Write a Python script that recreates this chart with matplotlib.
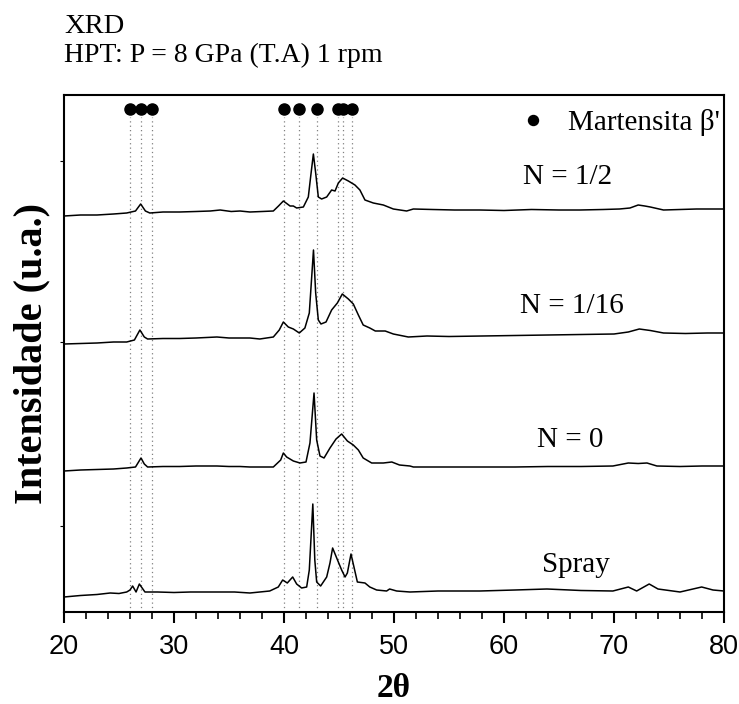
import matplotlib
matplotlib.use("Agg")
import matplotlib.pyplot as plt
from matplotlib.ticker import MultipleLocator

# 2theta positions of the martensite beta' reflections
peaks = [26.0, 27.0, 28.0, 40.0, 41.4, 43.0, 44.9, 45.4, 46.2]

# traces, already offset (a.u.)
tt_half = [20.0, 21.5, 23.0, 24.5, 25.7, 26.5, 26.97, 27.4, 27.8, 29.0, 30.5, 32.0, 33.3, 34.2,
           35.2, 36.0, 36.9, 38.0, 39.03, 39.5, 39.94, 40.55, 40.85, 41.15, 41.76, 42.21, 42.42,
           42.67, 42.88, 43.12, 43.42, 43.88, 44.33, 44.64, 44.94, 45.33, 45.85, 46.45, 46.9,
           47.36, 48.12, 49.03, 49.94, 51.15, 51.76, 53.5, 55.5, 57.8, 60.0, 62.5, 65.0, 66.9,
           69.0, 70.5, 71.45, 72.2, 72.8, 73.3, 74.5, 76.0, 77.5, 79.0, 80.0]
i_half = [396, 397, 397, 398, 399, 401, 408, 401, 399, 400, 400, 400.5, 401, 402,
          400.5, 401, 400, 400.5, 401, 406, 411, 406, 406, 404, 405, 415, 435,
          458, 439, 415, 413, 415, 422, 421, 429, 434, 431, 427, 422,
          412, 409, 407, 403, 401, 403, 402.5, 402, 402, 401.5, 402.5, 402, 402,
          402.5, 403, 404, 407, 406, 405, 402, 402.5, 403, 403, 403]

tt_16 = [20.0, 21.5, 23.0, 24.5, 25.7, 26.4, 26.9, 27.3, 27.6, 29.0, 30.5, 32.0, 33.9, 35.0,
         36.0, 36.9, 37.8, 39.03, 39.57, 39.94, 40.39, 40.85, 41.39, 41.9, 42.3, 42.5, 42.68,
         42.88, 43.12, 43.36, 43.82, 44.33, 44.85, 45.3, 45.85, 46.3, 46.76, 47.2, 47.8, 48.3,
         49.2, 49.94, 51.3, 53.0, 55.0, 58.0, 61.0, 64.0, 67.0, 70.0, 71.3, 72.3, 73.3, 74.5,
         76.5, 78.5, 80.0]
i_16 = [268, 268.5, 269, 270, 270, 272, 282, 275, 273, 273.5, 273.5, 274, 275, 274,
        274, 274, 273, 275, 282, 290, 285, 283, 279, 284, 299, 332, 362,
        319, 292, 288, 290, 302, 309, 318, 313, 308, 297, 287, 284, 281,
        281, 278, 275, 276, 275.5, 276, 276.5, 277, 277.5, 278, 280, 283, 281.5, 279,
        278.5, 279, 279]

tt_0 = [20.0, 21.5, 23.0, 24.5, 25.7, 26.5, 27.0, 27.3, 27.6, 29.0, 30.5, 32.0, 33.9, 35.0,
        36.0, 36.9, 38.0, 39.03, 39.7, 39.94, 40.24, 40.85, 41.45, 42.0, 42.36, 42.73, 42.97,
        43.27, 43.64, 44.18, 44.73, 45.24, 45.76, 46.3, 46.76, 47.2, 47.97, 49.03, 49.8, 50.5,
        51.45, 51.76, 54.0, 57.8, 61.0, 64.0, 67.0, 69.9, 71.3, 72.2, 73.0, 73.9, 76.0, 78.0,
        80.0]
i_0 = [141, 142, 142.5, 143, 144, 145, 154, 148, 145, 145.5, 145.5, 146, 146, 145.5,
       145.5, 145, 145, 145, 152, 159, 155, 151, 149, 150, 169, 219, 172,
       156, 154, 164, 173, 178, 171, 167, 162, 154, 149, 149, 150, 147,
       146, 145, 145, 145, 145, 145.5, 145.5, 146, 149, 148.5, 149, 146, 145.5, 146,
       146]

tt_spray = [20.0, 21.5, 23.0, 24.2, 25.0, 25.7, 26.0, 26.24, 26.55, 26.85, 27.36, 28.5, 30.0,
            31.5, 33.9, 35.5, 36.9, 38.7, 39.48, 39.88, 40.3, 40.79, 41.15, 41.6, 42.06, 42.3,
            42.62, 42.8, 42.97, 43.33, 43.88, 44.18, 44.42, 44.79, 45.24, 45.55, 45.76, 46.09,
            46.36, 46.67, 47.36, 47.8, 48.42, 49.33, 49.6, 50.24, 51.45, 54.0, 57.8, 61.0, 63.9,
            67.0, 69.9, 71.3, 72.06, 73.2, 74.0, 76.0, 77.97, 79.0, 80.0]
i_spray = [15, 16.5, 17.5, 19, 18.5, 20, 22, 26, 20, 28, 20, 20, 19.5,
           20, 20, 20, 19, 21, 25, 32, 29, 35, 28, 24, 25, 42,
           108, 52, 30, 26, 35, 49, 64, 54, 42, 35, 39, 58,
           45, 30, 29, 25, 22, 21, 23, 21, 20, 21, 21, 22, 23,
           21.5, 21, 25, 21, 28, 23, 20, 25, 22, 21]

curves = [(tt_half, i_half), (tt_16, i_16), (tt_0, i_0), (tt_spray, i_spray)]
labels = ["N = 1/2", "N = 1/16", "N = 0", "Spray"]
label_x = [65.8, 66.2, 66.0, 66.5]
label_y = [435, 306, 172, 47]

serif = ["Liberation Serif", "DejaVu Serif"]
sans = ["Liberation Sans", "DejaVu Sans"]

fig = plt.figure(figsize=(7.39, 7.04), dpi=100)
ax = fig.add_axes([64 / 739, 1 - 612 / 704, 660 / 739, 517 / 704])

ax.vlines(peaks, 0, 495, colors="#808080", linestyles=(0, (1, 2.5)), linewidth=0.9)
ax.plot(peaks, [503] * len(peaks), "o", color="black", markersize=8, linestyle="none",
        label="Martensita β'")
for tt, inten in curves:
    ax.plot(tt, inten, color="black", linewidth=1.1)
for name, x, y in zip(labels, label_x, label_y):
    ax.text(x, y, name, ha="center", va="center", fontsize=21, family=serif)

leg = ax.legend(loc="upper right", frameon=False, prop={"family": serif, "size": 21},
                handlelength=1.0, handletextpad=0.7, borderaxespad=0.0,
                bbox_to_anchor=(1.012, 0.995), markerscale=0.9)

ax.set_xlim(20, 80)
ax.set_ylim(0, 517)
ax.xaxis.set_major_locator(MultipleLocator(10))
ax.xaxis.set_minor_locator(MultipleLocator(2))
ax.set_yticks([86, 270, 451])
ax.set_yticklabels([])
ax.tick_params(axis="x", which="major", direction="out", length=8, width=1.5, pad=8)
ax.tick_params(axis="x", which="minor", direction="out", length=5, width=1.2)
ax.tick_params(axis="y", which="major", direction="out", length=3, width=0.8)
for lab in ax.get_xticklabels():
    lab.set_family(sans)
    lab.set_fontsize(19.5)
for sp in ax.spines.values():
    sp.set_linewidth(1.5)

ax.set_xlabel("2θ", fontsize=24, fontweight="bold", family=serif, labelpad=9)
ax.set_ylabel("Intensidade (u.a.)", fontsize=29, fontweight="bold", family=serif, labelpad=3)

fig.text(64 / 739, 1 - 33 / 704, "XRD", fontsize=20.5, family=serif, va="baseline")
fig.text(64 / 739, 1 - 61.5 / 704, "HPT: P = 8 GPa (T.A) 1 rpm", fontsize=20, family=serif,
         va="baseline")

fig.savefig("out.png", dpi=100)
